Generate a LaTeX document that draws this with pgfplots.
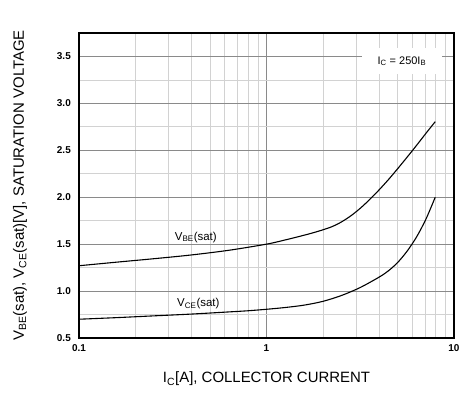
\documentclass[border=0pt]{standalone}
\usepackage{pgfplots}
\pgfplotsset{compat=1.18}
\usepackage{fontspec}
\setmainfont{Liberation Sans}
\definecolor{majgrid}{HTML}{8A8A8A}
\definecolor{mingrid}{HTML}{D2D2D2}
\begin{document}
\begin{tikzpicture}
\begin{axis}[
  scale only axis,
  width=375bp, height=305bp,
  xmode=log,
  xmin=0.1, xmax=10,
  ymin=0.5, ymax=3.75,
  xtick={0.1,1,10},
  xticklabels={0.1,1,10},
  minor xtick={0.2,0.3,0.4,0.5,0.6,0.7,0.8,0.9,2,3,4,5,6,7,8,9},
  ytick={0.5,1.0,1.5,2.0,2.5,3.0,3.5},
  minor ytick={0.75,1.25,1.75,2.25,2.75,3.25},
  yticklabel style={/pgf/number format/fixed,/pgf/number format/fixed zerofill,/pgf/number format/precision=1, inner sep=0pt, xshift=-8bp},
  /pgf/number format/assume math mode=true,
  tick label style={font=\fontsize{10}{12}\selectfont\bfseries},
  xticklabel style={inner sep=0pt, yshift=-6bp},
  major tick length=0pt, minor tick length=0pt,
  grid=both,
  major grid style={majgrid, line width=0.8pt},
  minor grid style={mingrid, line width=0.8pt},
  axis line style={black, line width=1.2pt},
  every axis x label/.style={at={(axis description cs:0.5,-0.134)}, anchor=center},
  every axis y label/.style={at={(axis description cs:-0.157,0.5)}, rotate=90, anchor=center},
  label style={font=\fontsize{15}{17}\selectfont},
  xlabel={I\textsubscript{C}[A], COLLECTOR CURRENT},
  ylabel={V\textsubscript{BE}(sat), V\textsubscript{CE}(sat)[V], SATURATION VOLTAGE},
]
\addplot[black, line width=1.1pt, smooth] coordinates {
  (0.1,1.27) (0.1585,1.308) (0.2512,1.345) (0.3981,1.385) (0.631,1.435)
  (1.0,1.50) (1.259,1.545) (1.585,1.595) (1.778,1.622) (1.995,1.652)
  (2.239,1.687) (2.512,1.737) (2.818,1.802) (3.162,1.882) (3.548,1.975)
  (3.981,2.077) (4.467,2.187) (5.012,2.305) (5.623,2.427) (6.310,2.552)
  (7.079,2.68) (7.943,2.805)
};
\addplot[black, line width=1.1pt, smooth] coordinates {
  (0.1,0.70) (0.1585,0.717) (0.2512,0.736) (0.3981,0.755) (0.631,0.778)
  (0.7943,0.79) (1.0,0.806) (1.259,0.825) (1.585,0.85) (1.995,0.89)
  (2.512,0.953) (3.162,1.038) (3.981,1.148) (4.467,1.2155) (5.012,1.3055)
  (5.623,1.4255) (6.310,1.5755) (7.079,1.765) (7.943,2.0)
};
\node[font=\fontsize{11.5}{13}\selectfont, inner sep=1pt] at (axis cs:0.42,1.574) {V\textsubscript{BE}(sat)};
\node[font=\fontsize{11.5}{13}\selectfont, inner sep=1pt] at (axis cs:0.433,0.862) {V\textsubscript{CE}(sat)};
\node[font=\fontsize{11}{13}\selectfont, fill=white, inner xsep=16bp, inner ysep=8bp] at (axis description cs:0.861,0.908) {I\textsubscript{C} = 250I\textsubscript{B}};
\end{axis}
\useasboundingbox (-79bp,-58bp) rectangle (389bp,338bp);
\end{tikzpicture}
\end{document}
